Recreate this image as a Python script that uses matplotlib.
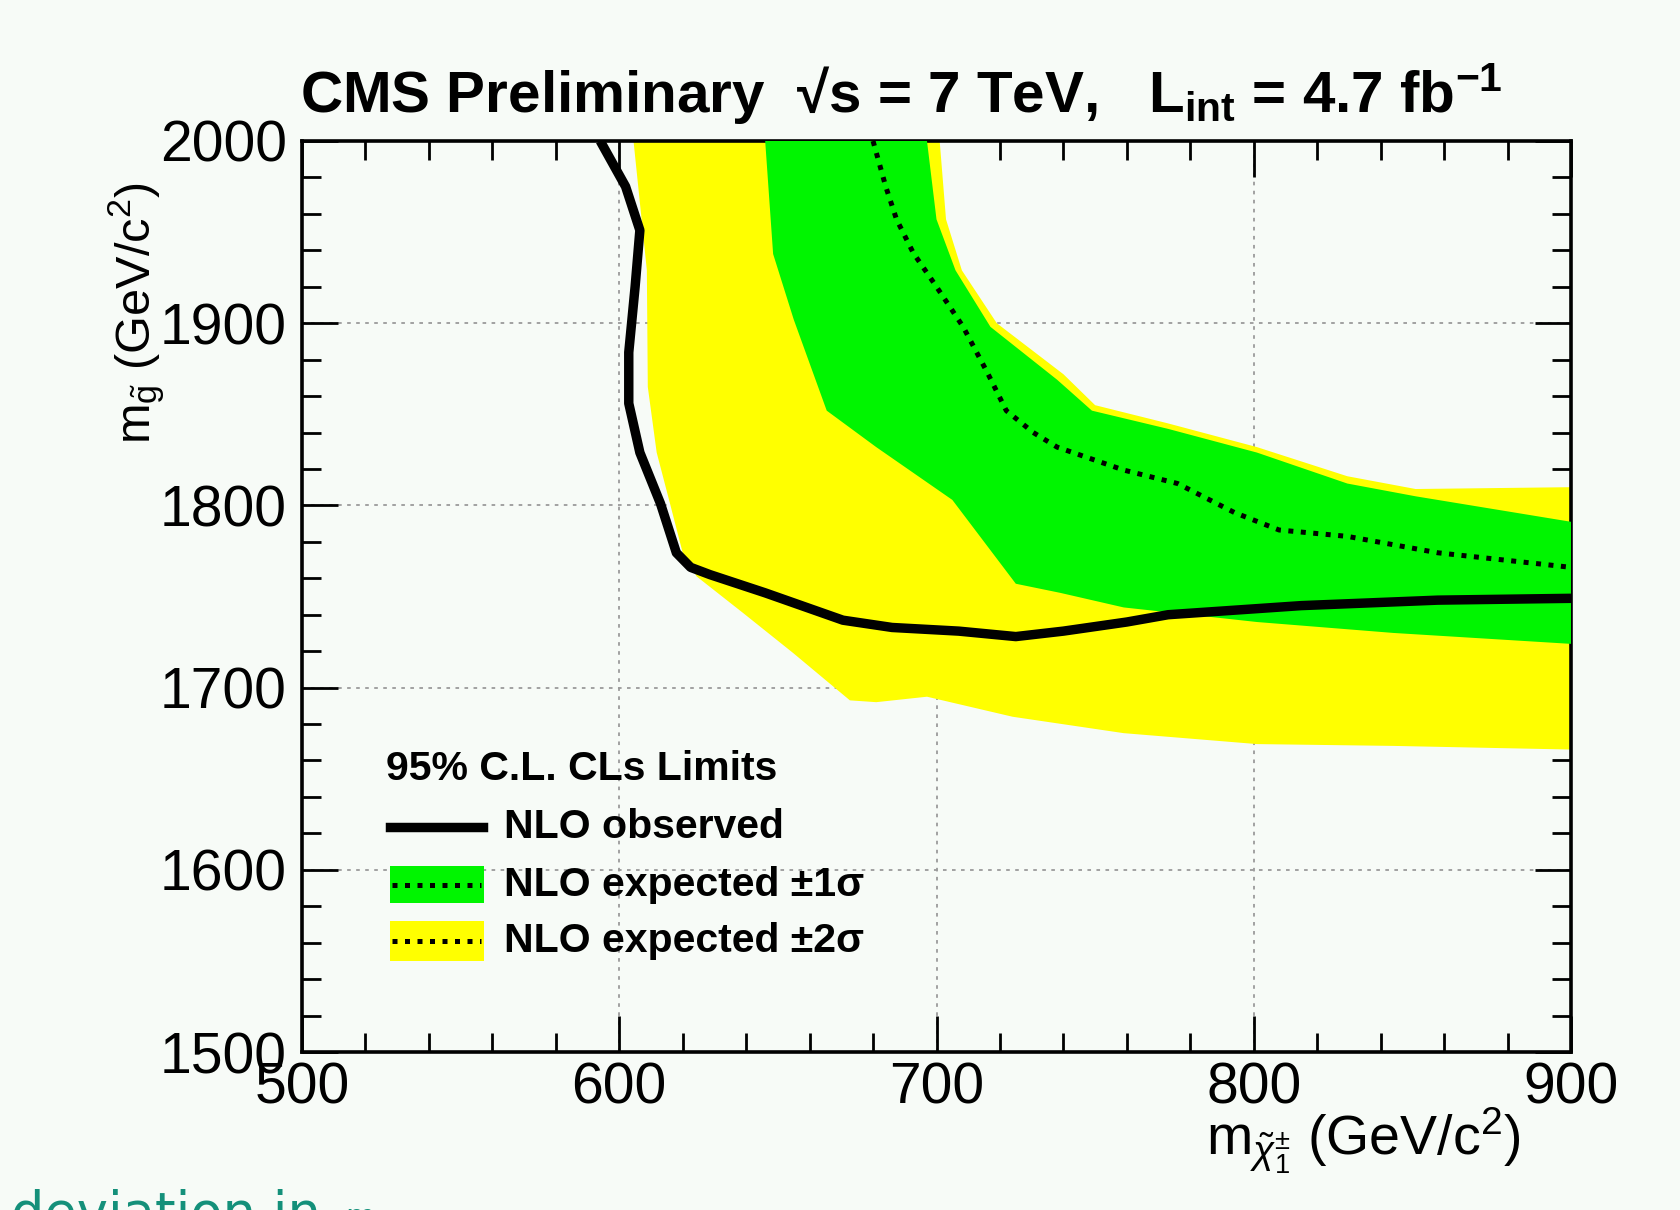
import matplotlib
matplotlib.use("Agg")
import matplotlib.pyplot as plt
from matplotlib.patches import Rectangle
from matplotlib.lines import Line2D
from matplotlib.ticker import MultipleLocator

plt.rcParams['font.family'] = ['Liberation Sans', 'DejaVu Sans']
plt.rcParams['mathtext.fontset'] = 'custom'
plt.rcParams['mathtext.rm'] = 'Liberation Sans'
plt.rcParams['mathtext.it'] = 'Liberation Sans:italic'
plt.rcParams['mathtext.bf'] = 'Liberation Sans:bold'

# NLO observed limit (chargino mass, gluino mass)
obs_x = [594, 602, 606.5, 605, 603, 603, 606.5, 613, 618, 622.5, 628.6, 646, 670.5,
         686, 707, 725, 740, 760, 773, 815, 858, 900]
obs_y = [2000, 1975, 1951, 1920, 1884, 1856, 1829, 1801, 1774, 1766, 1762, 1752, 1737,
         1733, 1731, 1728, 1731, 1736, 1740, 1745, 1748, 1749]

# NLO expected limit
exp_x = [680, 684, 687.4, 692.7, 700, 708.4, 716, 722, 730.5, 738, 759, 776,
         794, 808, 829.5, 858, 900]
exp_y = [2000, 1975, 1957, 1938.5, 1920, 1898, 1873, 1852, 1840, 1832, 1819.4, 1812,
         1796, 1786.5, 1783, 1774, 1766]

# +-1 sigma band: lower/left edge and upper/right edge
s1_lo_x = [646, 648.5, 655, 665.4, 681, 705, 725, 739, 759, 801, 844, 900]
s1_lo_y = [2000, 1938, 1902, 1852, 1832, 1803, 1757, 1752, 1744, 1736, 1730, 1724]
s1_hi_x = [697, 700, 706, 717, 738, 749, 773, 801, 829.5, 851, 900]
s1_hi_y = [2000, 1957, 1929, 1898, 1869, 1852, 1842, 1829, 1812, 1805, 1791]

# +-2 sigma band: lower/left edge and upper/right edge
s2_lo_x = [604.5, 608.7, 609, 611.8, 616, 620, 624.4, 639, 654.8, 672.7, 681, 697,
           724, 759, 801, 844, 900]
s2_lo_y = [2000, 1929, 1865, 1829, 1801, 1774, 1761, 1741, 1719, 1693, 1692, 1695,
           1684, 1675, 1669, 1668, 1666]
s2_hi_x = [701, 703, 708, 719, 740, 750, 773, 801, 829.5, 851, 900]
s2_hi_y = [2000, 1957, 1929, 1900, 1872, 1855, 1845, 1832, 1816, 1809, 1810]

x_ticks = [500, 600, 700, 800, 900]
y_ticks = [1500, 1600, 1700, 1800, 1900, 2000]

BG = '#f7fbf7'
GREEN = '#00f500'
YELLOW = '#ffff00'
W, H = 1680, 1210

fig = plt.figure(figsize=(W / 100, H / 100), dpi=100, facecolor=BG)
ax = fig.add_axes([302 / W, 1 - 1052 / H, 1269 / W, 911 / H])
ax.set_facecolor(BG)

ax.fill(s2_lo_x + s2_hi_x[::-1], s2_lo_y + s2_hi_y[::-1], color=YELLOW, lw=0, zorder=2)
ax.fill(s1_lo_x + s1_hi_x[::-1], s1_lo_y + s1_hi_y[::-1], color=GREEN, lw=0, zorder=3)
ax.plot(exp_x, exp_y, color='black', lw=3.6, ls=(0, (1, 1.5)), zorder=4)
ax.plot(obs_x, obs_y, color='black', lw=6.8, solid_joinstyle='round',
        solid_capstyle='butt', zorder=5)

ax.set_xlim(500, 900)
ax.set_ylim(1500, 2000)
ax.set_xticks(x_ticks)
ax.set_yticks(y_ticks)
ax.xaxis.set_minor_locator(MultipleLocator(20))
ax.yaxis.set_minor_locator(MultipleLocator(20))
ax.set_axisbelow(True)
ax.grid(True, which='major', color='#9a9a9a', lw=1.3, ls=(0, (2, 3)))
ax.tick_params(which='both', direction='in', top=True, right=True,
               color='black', width=2)
ax.tick_params(which='major', length=26, labelsize=41)
ax.tick_params(which='minor', length=14)
ax.tick_params(axis='x', which='major', pad=7)
ax.tick_params(axis='y', which='major', pad=11)
for s in ax.spines.values():
    s.set_linewidth(2.6)

# legend
tr = ax.transAxes
ax.text(0.066, 0.311, '95% C.L. CLs Limits', transform=tr, fontsize=29.5,
        fontweight='bold', va='center', zorder=6)
ax.add_line(Line2D([0.069, 0.143], [0.247, 0.247], transform=tr, color='black',
                   lw=6.8, zorder=6))
ax.add_patch(Rectangle((0.069, 0.1636), 0.0745, 0.0406, transform=tr,
                       facecolor=GREEN, lw=0, zorder=6))
ax.add_line(Line2D([0.071, 0.141], [0.1833, 0.1833], transform=tr, color='black',
                   lw=3.6, ls=(0, (1, 1.5)), zorder=7))
ax.add_patch(Rectangle((0.069, 0.0999), 0.0745, 0.0439, transform=tr,
                       facecolor=YELLOW, lw=0, zorder=6))
ax.add_line(Line2D([0.071, 0.141], [0.1218, 0.1218], transform=tr, color='black',
                   lw=3.6, ls=(0, (1, 1.5)), zorder=7))
for yy, lab in [(0.247, 'NLO observed'), (0.1833, 'NLO expected \u00b11\u03c3'),
                (0.1218, 'NLO expected \u00b12\u03c3')]:
    ax.text(0.159, yy, lab, transform=tr, fontsize=29.5, fontweight='bold',
            va='center', zorder=7)

# title
fig.text(300 / W, 1 - 112 / H,
         'CMS Preliminary  \u221as = 7 TeV,   L$_{\\mathbf{int}}$ = 4.7 fb$^{\\mathbf{-1}}$',
         fontsize=42, fontweight='bold', va='baseline', ha='left')

# axis titles
fig.text(1521 / W, 1 - 1141 / H, r'm$_{\tilde{\chi}^{\pm}_{1}}$ (GeV/c$^{2}$)',
         ha='right', va='center', fontsize=40)
fig.text(137 / W, 1 - 182 / H, r'm$_{\tilde{\mathrm{g}}}$ (GeV/c$^{2}$)',
         rotation=90, ha='center', va='top', fontsize=35)

# caption running off the bottom edge
fig.text(11 / W, 1 - 1230 / H, 'deviation in', color='#14907a', fontsize=38,
         family='DejaVu Sans', va='baseline')
fig.text(345 / W, 1 - 1226 / H, 'm', color='#14907a', fontsize=22,
         family='DejaVu Sans', va='baseline')

fig.savefig('out.png', dpi=100, facecolor=BG)
